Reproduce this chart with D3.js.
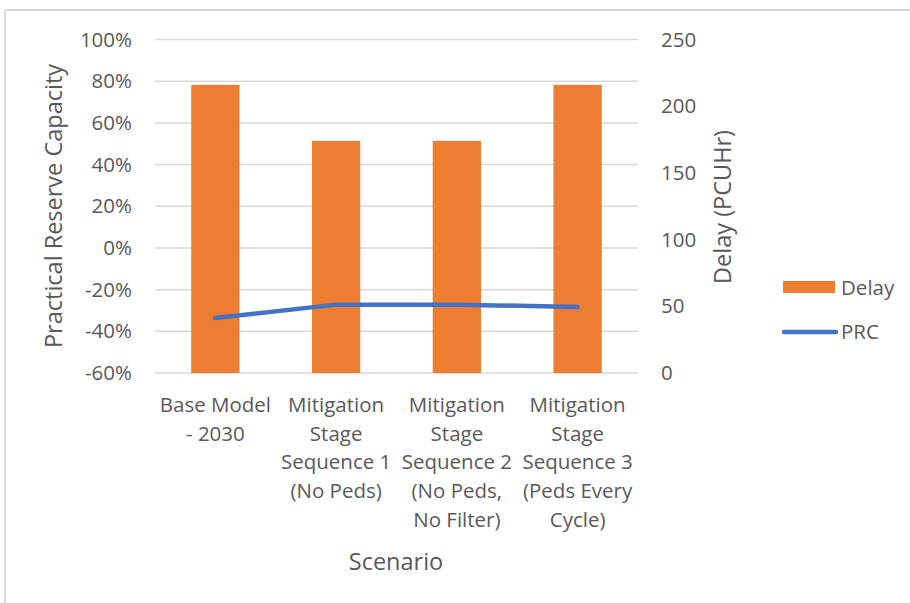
<!DOCTYPE html>
<html>
<head>
<meta charset="utf-8">
<script src="https://cdn.jsdelivr.net/npm/d3@7"></script>
<style>
  html, body { margin: 0; padding: 0; background: #fff; }
  svg { display: block; font-family: "Open Sans", "Noto Sans", sans-serif; }
</style>
</head>
<body>
<svg id="chart" width="910" height="603"></svg>
<script>
// Scenario categories (each label split into its display lines)
const categories = [
  ["Base Model", "- 2030"],
  ["Mitigation", "Stage", "Sequence 1", "(No Peds)"],
  ["Mitigation", "Stage", "Sequence 2", "(No Peds,", "No Filter)"],
  ["Mitigation", "Stage", "Sequence 3", "(Peds Every", "Cycle)"]
];
// Delay in PCU hours (right axis, bars)
const delay = [216, 174, 174, 216];
// Practical reserve capacity (left axis, line)
const prc = [-0.336, -0.272, -0.272, -0.283];
// Tick values
const prcTicks = [-0.6, -0.4, -0.2, 0, 0.2, 0.4, 0.6, 0.8, 1.0];
const delayTicks = [0, 50, 100, 150, 200, 250];

const svg = d3.select("#chart");
const textColor = "#595959";
const gridColor = "#d9d9d9";
const barColor = "#ED7D31";
const lineColor = "#4472C4";
const tickSize = 20.5;
const titleSize = 23.5;

// Frame edges
svg.append("line").attr("x1", 5).attr("x2", 910).attr("y1", 10).attr("y2", 10)
  .attr("stroke", "#d9d9d9").attr("stroke-width", 2);
svg.append("line").attr("x1", 5).attr("x2", 5).attr("y1", 10).attr("y2", 603)
  .attr("stroke", "#d9d9d9").attr("stroke-width", 2);

const plot = { left: 155, right: 638, top: 39.5, bottom: 373 };

const x = d3.scaleBand()
  .domain(d3.range(categories.length))
  .range([plot.left, plot.right])
  .paddingInner(0.6)
  .paddingOuter(0.3);

const yLeft = d3.scaleLinear().domain([-0.6, 1.0]).range([plot.bottom, plot.top]);
const yRight = d3.scaleLinear().domain([0, 250]).range([plot.bottom, plot.top]);

// Gridlines
svg.append("g")
  .selectAll("line")
  .data(prcTicks)
  .join("line")
  .attr("x1", plot.left).attr("x2", plot.right)
  .attr("y1", d => yLeft(d)).attr("y2", d => yLeft(d))
  .attr("stroke", gridColor).attr("stroke-width", 1.5);

// Left axis
const leftAxis = svg.append("g")
  .attr("transform", `translate(${plot.left - 23},0)`)
  .call(d3.axisLeft(yLeft).tickValues(prcTicks).tickSize(0).tickPadding(0)
    .tickFormat(d => Math.round(d * 100) + "%"));
leftAxis.select(".domain").remove();
leftAxis.selectAll("text").attr("fill", textColor).attr("font-size", tickSize)
  .attr("font-family", "'Open Sans', sans-serif");

// Right axis
const rightAxis = svg.append("g")
  .attr("transform", `translate(${plot.right + 23},0)`)
  .call(d3.axisRight(yRight).tickValues(delayTicks).tickSize(0).tickPadding(0));
rightAxis.select(".domain").remove();
rightAxis.selectAll("text").attr("fill", textColor).attr("font-size", tickSize)
  .attr("font-family", "'Open Sans', sans-serif");

// Bars
svg.append("g")
  .selectAll("rect")
  .data(delay)
  .join("rect")
  .attr("x", (d, i) => x(i))
  .attr("width", x.bandwidth())
  .attr("y", d => yRight(d))
  .attr("height", d => yRight(0) - yRight(d))
  .attr("fill", barColor);

// PRC line
const line = d3.line()
  .x((d, i) => x(i) + x.bandwidth() / 2)
  .y(d => yLeft(d));
svg.append("path")
  .datum(prc)
  .attr("d", line)
  .attr("fill", "none")
  .attr("stroke", lineColor)
  .attr("stroke-width", 4.5)
  .attr("stroke-linecap", "round")
  .attr("stroke-linejoin", "round");

// Category labels
const catG = svg.append("g");
categories.forEach((lines, i) => {
  const cx = x(i) + x.bandwidth() / 2;
  const t = catG.append("text")
    .attr("x", cx)
    .attr("y", 412)
    .attr("text-anchor", "middle")
    .attr("fill", textColor)
    .attr("font-size", tickSize);
  lines.forEach((s, j) => {
    t.append("tspan")
      .attr("x", cx)
      .attr("dy", j === 0 ? 0 : 28.7)
      .text(s);
  });
});

// Axis titles
svg.append("text")
  .attr("x", 396).attr("y", 570)
  .attr("text-anchor", "middle")
  .attr("fill", textColor).attr("font-size", titleSize)
  .text("Scenario");

svg.append("text")
  .attr("transform", "translate(62,206) rotate(-90)")
  .attr("text-anchor", "middle")
  .attr("fill", textColor).attr("font-size", titleSize)
  .text("Practical Reserve Capacity");

svg.append("text")
  .attr("transform", "translate(731,207) rotate(-90)")
  .attr("text-anchor", "middle")
  .attr("fill", textColor).attr("font-size", titleSize)
  .text("Delay (PCUHr)");

// Legend
const legend = svg.append("g");
legend.append("rect")
  .attr("x", 783).attr("y", 281).attr("width", 52).attr("height", 12)
  .attr("fill", barColor);
legend.append("text")
  .attr("x", 841).attr("y", 295)
  .attr("fill", textColor).attr("font-size", tickSize)
  .text("Delay");
legend.append("line")
  .attr("x1", 784).attr("x2", 836).attr("y1", 332).attr("y2", 332)
  .attr("stroke", lineColor).attr("stroke-width", 4.5)
  .attr("stroke-linecap", "round");
legend.append("text")
  .attr("x", 841).attr("y", 339)
  .attr("fill", textColor).attr("font-size", tickSize)
  .text("PRC");
</script>
</body>
</html>
